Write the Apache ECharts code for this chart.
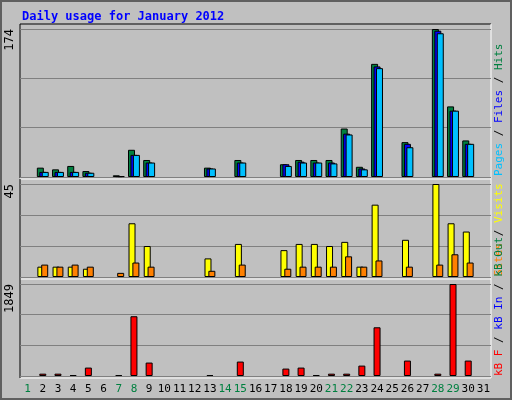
<!DOCTYPE html>
<html>
<head>
<meta charset="utf-8">
<script src="https://cdn.jsdelivr.net/npm/echarts@6/dist/echarts.min.js"></script>
<style>
  html, body { margin: 0; padding: 0; background: #c0c0c0; }
  #chart { width: 512px; height: 400px; }
</style>
</head>
<body>
<div id="chart"></div>
<script>
var days = [];
for (var d = 1; d <= 31; d++) days.push(String(d));
var weekendDays = ['1', '7', '8', '14', '15', '21', '22', '28', '29'];

// (0 = no activity)
var hits   = [0, 11, 9, 13, 7, 0, 2, 32, 20, 0, 0, 0, 11, 0, 20, 0, 0, 15, 20, 20, 20, 57, 12, 133, 0, 41, 0, 174, 83, 43, 0];
var files  = [0, 6, 6, 6, 5, 0, 1, 26, 17, 0, 0, 0, 10, 0, 17, 0, 0, 15, 18, 17, 17, 51, 10, 130, 0, 39, 0, 172, 78, 39, 0];
var pages  = [0, 6, 6, 6, 5, 0, 1, 26, 17, 0, 0, 0, 10, 0, 17, 0, 0, 13, 17, 17, 16, 50, 9, 128, 0, 35, 0, 169, 78, 39, 0];
var visits = [0, 5, 5, 5, 4, 0, 0, 26, 15, 0, 0, 0, 9, 0, 16, 0, 0, 13, 16, 16, 15, 17, 5, 35, 0, 18, 0, 45, 26, 22, 0];
var sites  = [0, 6, 5, 6, 5, 0, 2, 7, 5, 0, 0, 0, 3, 0, 6, 0, 0, 4, 5, 5, 5, 10, 5, 8, 0, 5, 0, 6, 11, 7, 0];
var kbytes = [0, 47, 47, 20, 169, 0, 20, 1201, 270, 0, 0, 0, 20, 0, 290, 0, 0, 149, 169, 20, 47, 47, 209, 979, 0, 310, 0, 47, 1849, 310, 0];

var maxTop = 174, maxMid = 45, maxBot = 1849;

var chart = echarts.init(document.getElementById('chart'));

var grids = [
  { left: 20, right: 21, top: 29, height: 148 },
  { left: 20, right: 21, top: 184, height: 93 },
  { left: 20, right: 21, top: 284, height: 92 }
];

function xAxis(i, showLabels) {
  return {
    type: 'category', gridIndex: i, data: days,
    axisLine: { show: false }, axisTick: { show: false },
    axisLabel: {
      show: showLabels, interval: 0, margin: 8,
      fontFamily: 'DejaVu Sans Mono', fontSize: 11,
      color: function(v) { return weekendDays.indexOf(v) >= 0 ? '#008040' : '#000'; }
    }
  };
}

function yAxis(i, max) {
  return {
    type: 'value', gridIndex: i, min: 0, max: max, interval: max / 3,
    axisLine: { show: false }, axisTick: { show: false },
    splitLine: { lineStyle: { color: '#808080', width: 1 } },
    axisLabel: {
      rotate: 90, margin: 4, align: 'right',
      fontFamily: 'DejaVu Sans Mono', fontSize: 12, color: '#000',
      formatter: function(v) { return Math.abs(v - max) < 0.01 ? String(max) : ''; }
    }
  };
}

function bars(name, data, color, xi, width, gap) {
  return {
    name: name, type: 'bar', xAxisIndex: xi, yAxisIndex: xi,
    data: data.map(function(v) { return v === 0 ? null : v; }),
    barWidth: width, barGap: gap,
    itemStyle: { color: color, borderColor: '#000', borderWidth: 1 }
  };
}

function legend(y, parts) {
  var rich = {}, s = '';
  parts.forEach(function(p, i) {
    rich['p' + i] = { fill: p[1], fontFamily: 'DejaVu Sans Mono', fontSize: 11 };
    s += '{p' + i + '|' + p[0] + '}';
  });
  return {
    type: 'text', x: 494, y: y, rotation: Math.PI / 2,
    style: { text: s, rich: rich, textVerticalAlign: 'top' }
  };
}

var option = {
  animation: false,
  backgroundColor: '#c0c0c0',
  title: {
    text: 'Daily usage for January 2012', left: 17, top: 6,
    textStyle: { color: '#0000ff', fontFamily: 'DejaVu Sans Mono', fontSize: 12, fontWeight: 'bold' }
  },
  grid: grids,
  xAxis: [xAxis(0, false), xAxis(1, false), xAxis(2, true)],
  yAxis: [yAxis(0, maxTop), yAxis(1, maxMid), yAxis(2, maxBot)],
  series: [
    bars('Hits', hits, '#008040', 0, 7, '-65%'),
    bars('Files', files, '#0000ff', 0, 7, '-65%'),
    bars('Pages', pages, '#00c0ff', 0, 7, '-65%'),
    bars('Visits', visits, '#ffff00', 1, 7, '-45%'),
    bars('Sites', sites, '#ff8000', 1, 7, '-45%'),
    bars('kB F', kbytes, '#ff0000', 2, 7, '0%')
  ],
  graphic: [
    { type: 'rect', shape: { x: 1, y: 1, width: 510, height: 398 }, style: { fill: null, stroke: '#606060', lineWidth: 2 } },
    { type: 'polyline', shape: { points: [[20, 178], [20, 24], [491, 24]] }, style: { fill: null, stroke: '#000' } },
    { type: 'polyline', shape: { points: [[491, 24], [491, 378], [20, 378]] }, style: { fill: null, stroke: '#fff' } },
    { type: 'line', shape: { x1: 20, y1: 179, x2: 491, y2: 179 }, style: { stroke: '#fff' } },
    { type: 'line', shape: { x1: 20, y1: 279, x2: 491, y2: 279 }, style: { stroke: '#fff' } },
    { type: 'polyline', shape: { points: [[20, 378], [20, 179]] }, style: { fill: null, stroke: '#000' } },
    legend(176, [['Pages', '#00c0ff'], [' / ', '#000'], ['Files', '#0000ff'], [' / ', '#000'], ['Hits', '#008040']]),
    legend(276, [['Sites', '#ff8000'], [' / ', '#000'], ['Visits', '#ffff00']]),
    legend(376, [['kB F', '#ff0000'], [' / ', '#000'], ['kB In', '#0000ff'], [' / ', '#000'], ['kB Out', '#008040']])
  ]
};

chart.setOption(option);
</script>
</body>
</html>
